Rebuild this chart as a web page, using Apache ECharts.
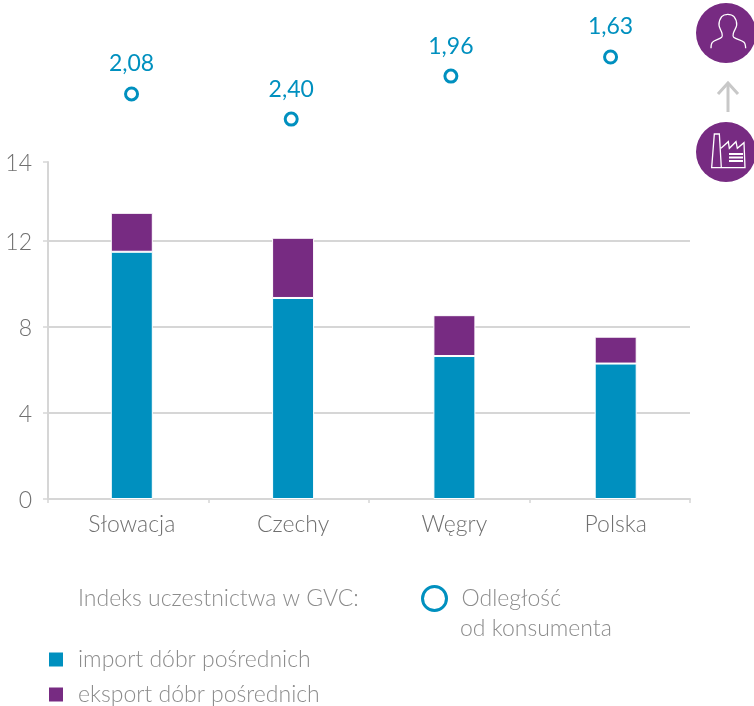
<!DOCTYPE html>
<html><head><meta charset="utf-8">
<style>html,body{margin:0;padding:0;background:#fff}#c{width:754px;height:706px}</style>
<script src="https://cdn.jsdelivr.net/npm/echarts@6/dist/echarts.min.js"></script>
</head><body><div id="c"></div>
<script>
const categories = ['Słowacja','Czechy','Węgry','Polska'];
const importValues = [11.5, 9.35, 6.65, 6.3];
const exportValues = [1.81, 2.8, 1.9, 1.25];
const distanceLabels = ['2,08','2,40','1,96','1,63'];
const distanceLevels = [18.84, 17.67, 19.67, 20.56];
const tickValues = [0,4,8,12,15.67];
const tickLabels = ['0','4','8','12','14'];

const FONT='Lato', BLUE='#0090bf', PURPLE='#772b82', LINE='#d6d6d6', LEG='#8c8c8c';
const P=(a,ox,oy)=>a.map(p=>[ox+p[0]/3,oy+p[1]/3]);
const white={stroke:'#fff',fill:null,lineWidth:1.3};
const legendText={fontFamily:FONT,fontWeight:300,fontSize:23,color:LEG,padding:[0,0,0,9]};
const chart=echarts.init(document.getElementById('c'),null,{renderer:'canvas'});
chart.setOption({
  animation:false,
  backgroundColor:'#fff',
  grid:[
    {left:48,width:642,top:162,height:337},
    {left:51.15,width:645.2,top:26,height:473},
    {left:51.7,width:638.7,top:26,height:473}
  ],
  xAxis:[
    {type:'category',gridIndex:0,data:categories,
     axisLine:{lineStyle:{color:LINE,width:2}},
     axisTick:{show:true,length:4,lineStyle:{color:LINE,width:1.5}},
     axisLabel:{show:false}},
    {type:'category',gridIndex:1,data:categories,
     axisLine:{show:false},axisTick:{show:false},
     axisLabel:{show:true,margin:14,fontFamily:FONT,fontWeight:300,fontSize:23,color:'#707070'}},
    {type:'category',gridIndex:2,data:categories,show:false}
  ],
  yAxis:[
    {type:'value',gridIndex:0,min:0,max:15.67,
     axisLine:{show:true,lineStyle:{color:LINE,width:2}},
     axisTick:{show:true,length:5,customValues:tickValues,lineStyle:{color:LINE,width:1.5}},
     axisLabel:{show:true,margin:16,customValues:tickValues,
       formatter:v=>'{a|'+tickLabels[tickValues.indexOf(v)]+'}',
       rich:{a:{fontFamily:FONT,fontWeight:300,fontSize:23,color:'#707070',padding:[4,0,0,0]}},
       showMaxLabel:true},
     splitLine:{show:true,showMaxLine:false,lineStyle:{color:LINE,width:2}}},
    {type:'value',gridIndex:1,min:0,max:22,show:false,splitLine:{show:false}},
    {type:'value',gridIndex:2,min:0,max:22,show:false,splitLine:{show:false}}
  ],
  legend:[
    {left:47,top:648,padding:0,itemWidth:16,itemHeight:16,data:['import dóbr pośrednich'],icon:'rect',
     textStyle:legendText},
    {left:47,top:683,padding:0,itemWidth:16,itemHeight:16,data:['eksport dóbr pośrednich'],icon:'rect',
     textStyle:legendText},
    {left:421,top:585,padding:0,itemWidth:24,itemHeight:24,data:['Odległość'],icon:'circle',
     itemStyle:{color:'#fff',borderColor:BLUE,borderWidth:3},
     textStyle:Object.assign({},legendText,{padding:[0,0,0,10]})}
  ],
  series:[
    {name:'import dóbr pośrednich',type:'bar',xAxisIndex:1,yAxisIndex:1,stack:'a',barWidth:42,
     data:importValues,itemStyle:{color:BLUE,borderColor:'#fff',borderWidth:1}},
    {name:'eksport dóbr pośrednich',type:'bar',xAxisIndex:1,yAxisIndex:1,stack:'a',barWidth:42,
     data:exportValues,itemStyle:{color:PURPLE,borderColor:'#fff',borderWidth:1}},
    {name:'Odległość',type:'scatter',xAxisIndex:2,yAxisIndex:2,symbol:'circle',symbolSize:12,
     data:distanceLevels,
     itemStyle:{color:'#fff',borderColor:BLUE,borderWidth:3,opacity:1},
     label:{show:true,position:'top',distance:11,fontFamily:FONT,fontWeight:400,fontSize:23,color:BLUE,
       formatter:p=>distanceLabels[p.dataIndex]}}
  ],
  graphic:[
    {type:'text',left:78,top:587,style:{text:'Indeks uczestnictwa w GVC:',font:'300 23px Lato',fill:LEG}},
    {type:'text',left:460,top:617,style:{text:'od konsumenta',font:'300 23px Lato',fill:LEG}},
    {type:'circle',shape:{cx:726,cy:33,r:30},style:{fill:PURPLE}},
    {type:'circle',shape:{cx:726,cy:152,r:30},style:{fill:PURPLE}},
    {type:'line',shape:{x1:728,y1:112,x2:728,y2:83},style:{stroke:'#c8c8c8',lineWidth:3}},
    {type:'polyline',shape:{points:[[718,94],[728,83],[738,94]]},style:{stroke:'#c8c8c8',fill:null,lineWidth:3}},
    {type:'polyline',shape:{smooth:0.35,points:P([[93,145],[97,127],[125,112],[126,100],[117,75],[125,50],[143,43],[162,50],[170,75],[160,100],[161,112],[192,127],[197,145]],680,0)},style:white},
    {type:'polyline',shape:{points:P([[123,445],[145,425],[148,445],[168,425],[172,445],[192,428],[195,503],[95,503],[103,402],[118,402],[124,503]],680,0)},style:white},
    {type:'line',shape:{x1:729,y1:154,x2:743,y2:154},style:{stroke:'#fff',lineWidth:2}},
    {type:'line',shape:{x1:729,y1:157.5,x2:743,y2:157.5},style:{stroke:'#fff',lineWidth:2}},
    {type:'line',shape:{x1:729,y1:161,x2:743,y2:161},style:{stroke:'#fff',lineWidth:2}}
  ]
});
</script></body></html>
